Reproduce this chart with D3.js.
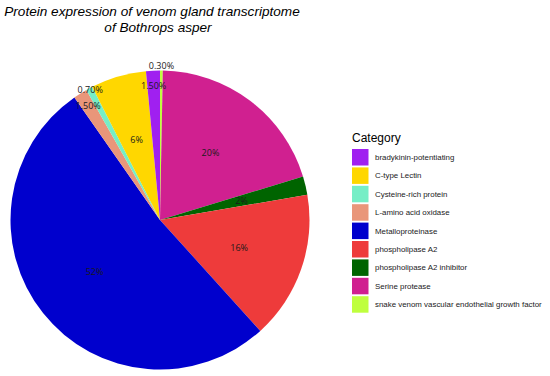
<!DOCTYPE html>
<html>
<head>
<meta charset="utf-8">
<script src="https://cdn.jsdelivr.net/npm/d3@7"></script>
<style>
  body { margin: 0; background: #fff; }
</style>
</head>
<body>
<div id="chart"></div>
<script>
// categories in legend order (alphabetical, as in the figure)
var categories = ["bradykinin-potentiating", "C-type Lectin", "Cysteine-rich protein",
    "L-amino acid oxidase", "Metalloproteinase", "phospholipase A2",
    "phospholipase A2 inhibitor", "Serine protease",
    "snake venom vascular endothelial growth factor"];
// percentage of protein expression per category
var values = [1.5, 6, 0.7, 1.5, 52, 16, 2, 20, 0.3];
// text printed on each slice
var labels = ["1.50%", "6%", "0.70%", "1.50%", "52%", "16%", "2%", "20%", "0.30%"];
var colors = ["#A020F0", "#FFD700", "#76EEC6", "#E9967A", "#0000CD",
    "#EE3B3B", "#006400", "#D02090", "#BFFF3E"];

var width = 550, height = 376;
var cx = 160, cy = 220, radius = 149.5;

var svg = d3.select("#chart").append("svg")
    .attr("width", width)
    .attr("height", height);

// title, two lines, italic
var title = svg.append("text")
    .attr("text-anchor", "middle")
    .attr("font-family", "Liberation Sans, Arial, sans-serif")
    .attr("font-style", "italic")
    .attr("font-size", 13.6)
    .attr("fill", "#000");
title.append("tspan").attr("x", 152).attr("y", 16).text("Protein expression of venom gland transcriptome");
title.append("tspan").attr("x", 158).attr("y", 32).text("of Bothrops asper");

// build rows; the slices go clockwise from 12 o'clock in reverse legend order
var rows = categories.map(function (c, i) {
    return { name: c, value: values[i], label: labels[i], color: colors[i] };
});

var pie = d3.pie()
    .sort(null)
    .value(function (d) { return d.value; });
var arcs = pie(rows.slice().reverse());

var arc = d3.arc().innerRadius(0).outerRadius(radius);

var g = svg.append("g").attr("transform", "translate(" + cx + "," + cy + ")");

g.selectAll("path")
    .data(arcs)
    .enter().append("path")
    .attr("d", arc)
    .attr("fill", function (d) { return d.data.color; });

// labels: big slices at about mid radius, tiny slices pushed towards the rim
function labelRadius(v) {
    if (v >= 2) return radius * 0.56;
    return radius * (1.06 - 0.106 * v);
}

g.selectAll("text.lab")
    .data(arcs)
    .enter().append("text")
    .attr("class", "lab")
    .attr("transform", function (d) {
        var a = (d.startAngle + d.endAngle) / 2;
        var r = labelRadius(d.data.value);
        return "translate(" + (r * Math.sin(a)) + "," + (-r * Math.cos(a)) + ")";
    })
    .attr("dy", "0.35em")
    .attr("text-anchor", "middle")
    .attr("font-family", "Open Sans, sans-serif")
    .attr("font-size", 9)
    .attr("fill", "#1a1a1a")
    .text(function (d) { return d.data.label; });

// legend
var legend = svg.append("g").attr("transform", "translate(352,0)");

legend.append("text")
    .attr("x", 0)
    .attr("y", 142)
    .attr("font-family", "Liberation Sans, Arial, sans-serif")
    .attr("font-size", 12)
    .attr("fill", "#000")
    .text("Category");

var keySize = 16.5, keyStep = 18.4, keyTop = 149;

var item = legend.selectAll("g.item")
    .data(rows)
    .enter().append("g")
    .attr("class", "item")
    .attr("transform", function (d, i) { return "translate(0," + (keyTop + i * keyStep) + ")"; });

item.append("rect")
    .attr("width", keySize)
    .attr("height", keySize)
    .attr("fill", function (d) { return d.color; });

item.append("text")
    .attr("x", 23)
    .attr("y", keySize / 2)
    .attr("dy", "0.35em")
    .attr("font-family", "Liberation Sans, Arial, sans-serif")
    .attr("font-size", 7.9)
    .attr("fill", "#1a1a1a")
    .text(function (d) { return d.name; });
</script>
</body>
</html>
